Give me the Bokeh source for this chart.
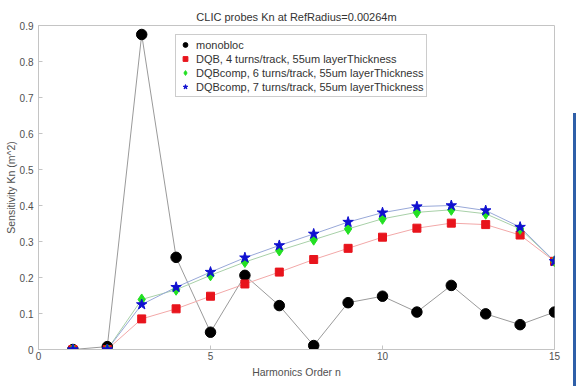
from bokeh.plotting import figure
from bokeh.models import (FixedTicker, PrintfTickFormatter, Legend, LegendItem,
                          Range1d, PlainText, Div)
from bokeh.layouts import row
from bokeh.embed import file_html
from bokeh.resources import INLINE

harmonics = list(range(1, 16))
monobloc = [0, 0.008, 0.875, 0.256, 0.048, 0.206, 0.122, 0.011, 0.130, 0.148, 0.104, 0.178, 0.099, 0.069, 0.104]
dqb4 = [0, 0, 0.085, 0.113, 0.148, 0.182, 0.215, 0.250, 0.281, 0.312, 0.337, 0.351, 0.347, 0.318, 0.245]
dqbcomp6 = [0, 0, 0.139, 0.166, 0.206, 0.243, 0.275, 0.305, 0.335, 0.363, 0.381, 0.388, 0.377, 0.335, 0.245]
dqbcomp7 = [0, 0, 0.125, 0.173, 0.215, 0.255, 0.289, 0.321, 0.354, 0.380, 0.397, 0.400, 0.386, 0.340, 0.245]
names = ["monobloc",
         "DQB, 4 turns/track, 55um layerThickness",
         "DQBcomp, 6 turns/track, 55um layerThickness",
         "DQBcomp, 7 turns/track, 55um layerThickness"]
x_ticks = [0, 5, 10, 15]
y_ticks = [0, 0.1, 0.2, 0.3, 0.4, 0.5, 0.6, 0.7, 0.8, 0.9]

FONT = "Liberation Sans"
AX = "#c4c4c4"
LBL = "#505050"

p = figure(width=573, height=386, output_backend="svg", toolbar_location=None,
           x_range=Range1d(0, 15), y_range=Range1d(0, 0.9),
           min_border_left=38, min_border_right=19, min_border_top=25, min_border_bottom=37,
           x_axis_label=PlainText("Harmonics Order n"),
           y_axis_label=PlainText("Sensitivity Kn (m^2)"))
p.title.text = "CLIC probes Kn at RefRadius=0.00264m"
p.title.align = "center"
p.title.text_font = FONT
p.title.text_font_size = "11px"
p.title.text_font_style = "normal"
p.title.text_color = "#333333"
p.title.standoff = 5
p.grid.visible = False
p.outline_line_color = AX
p.background_fill_color = "white"
p.border_fill_color = "white"

for ax in [p.xaxis[0], p.yaxis[0]]:
    ax.axis_line_color = AX
    ax.major_tick_line_color = AX
    ax.major_tick_in = 4
    ax.major_tick_out = 0
    ax.minor_tick_line_color = None
    ax.major_label_text_font = FONT
    ax.major_label_text_font_size = "10px"
    ax.major_label_text_color = LBL
    ax.axis_label_text_font = FONT
    ax.axis_label_text_font_style = "normal"
    ax.axis_label_text_color = LBL
    ax.axis_label_text_font_size = "10.5px"
    ax.formatter = PrintfTickFormatter(format="%g")
p.xaxis[0].ticker = FixedTicker(ticks=x_ticks)
p.yaxis[0].ticker = FixedTicker(ticks=y_ticks)
p.xaxis[0].major_label_standoff = 2
p.xaxis[0].axis_label_standoff = 3
p.yaxis[0].major_label_standoff = 5
p.yaxis[0].axis_label_standoff = 0

p.line(harmonics, monobloc, line_color="#9a9a9a", line_width=1)
p.line(harmonics, dqb4, line_color="#f2a8a8", line_width=1)
p.line(harmonics, dqbcomp6, line_color="#a8d0a8", line_width=1)
p.line(harmonics, dqbcomp7, line_color="#98a8d8", line_width=1)

r_m = p.scatter(harmonics, monobloc, marker="circle", size=10.5, fill_color="black", line_color="black")
r_r = p.scatter(harmonics, dqb4, marker="square", size=8, fill_color="#e8141c", line_color="#e8141c")
r_g = p.scatter(harmonics, dqbcomp6, marker="diamond", size=11, fill_color="#22e022", line_color="#22e022")
r_b = p.scatter(harmonics, dqbcomp7, marker="star", size=11, fill_color="#1010d0", line_color="#1010d0")

legend = Legend(items=[LegendItem(label=names[0], renderers=[r_m]),
                       LegendItem(label=names[1], renderers=[r_r]),
                       LegendItem(label=names[2], renderers=[r_g]),
                       LegendItem(label=names[3], renderers=[r_b])],
                location=(137, 252))
legend.label_text_font = FONT
legend.label_text_font_size = "11px"
legend.label_text_color = "#333333"
legend.label_height = 13
legend.glyph_height = 13
legend.glyph_width = 12
legend.spacing = 1
legend.padding = 3
legend.margin = 0
legend.label_standoff = 5
legend.border_line_color = "#9a9a9a"
legend.border_line_width = 1
legend.background_fill_alpha = 1
p.add_layout(legend)

bar = Div(text="", width=3, height=273, margin=(113, 0, 0, 0),
          styles={"background-color": "#2f5fa8"})

layout = row(p, bar, spacing=0)
open("out.html", "w").write(file_html(layout, INLINE))
